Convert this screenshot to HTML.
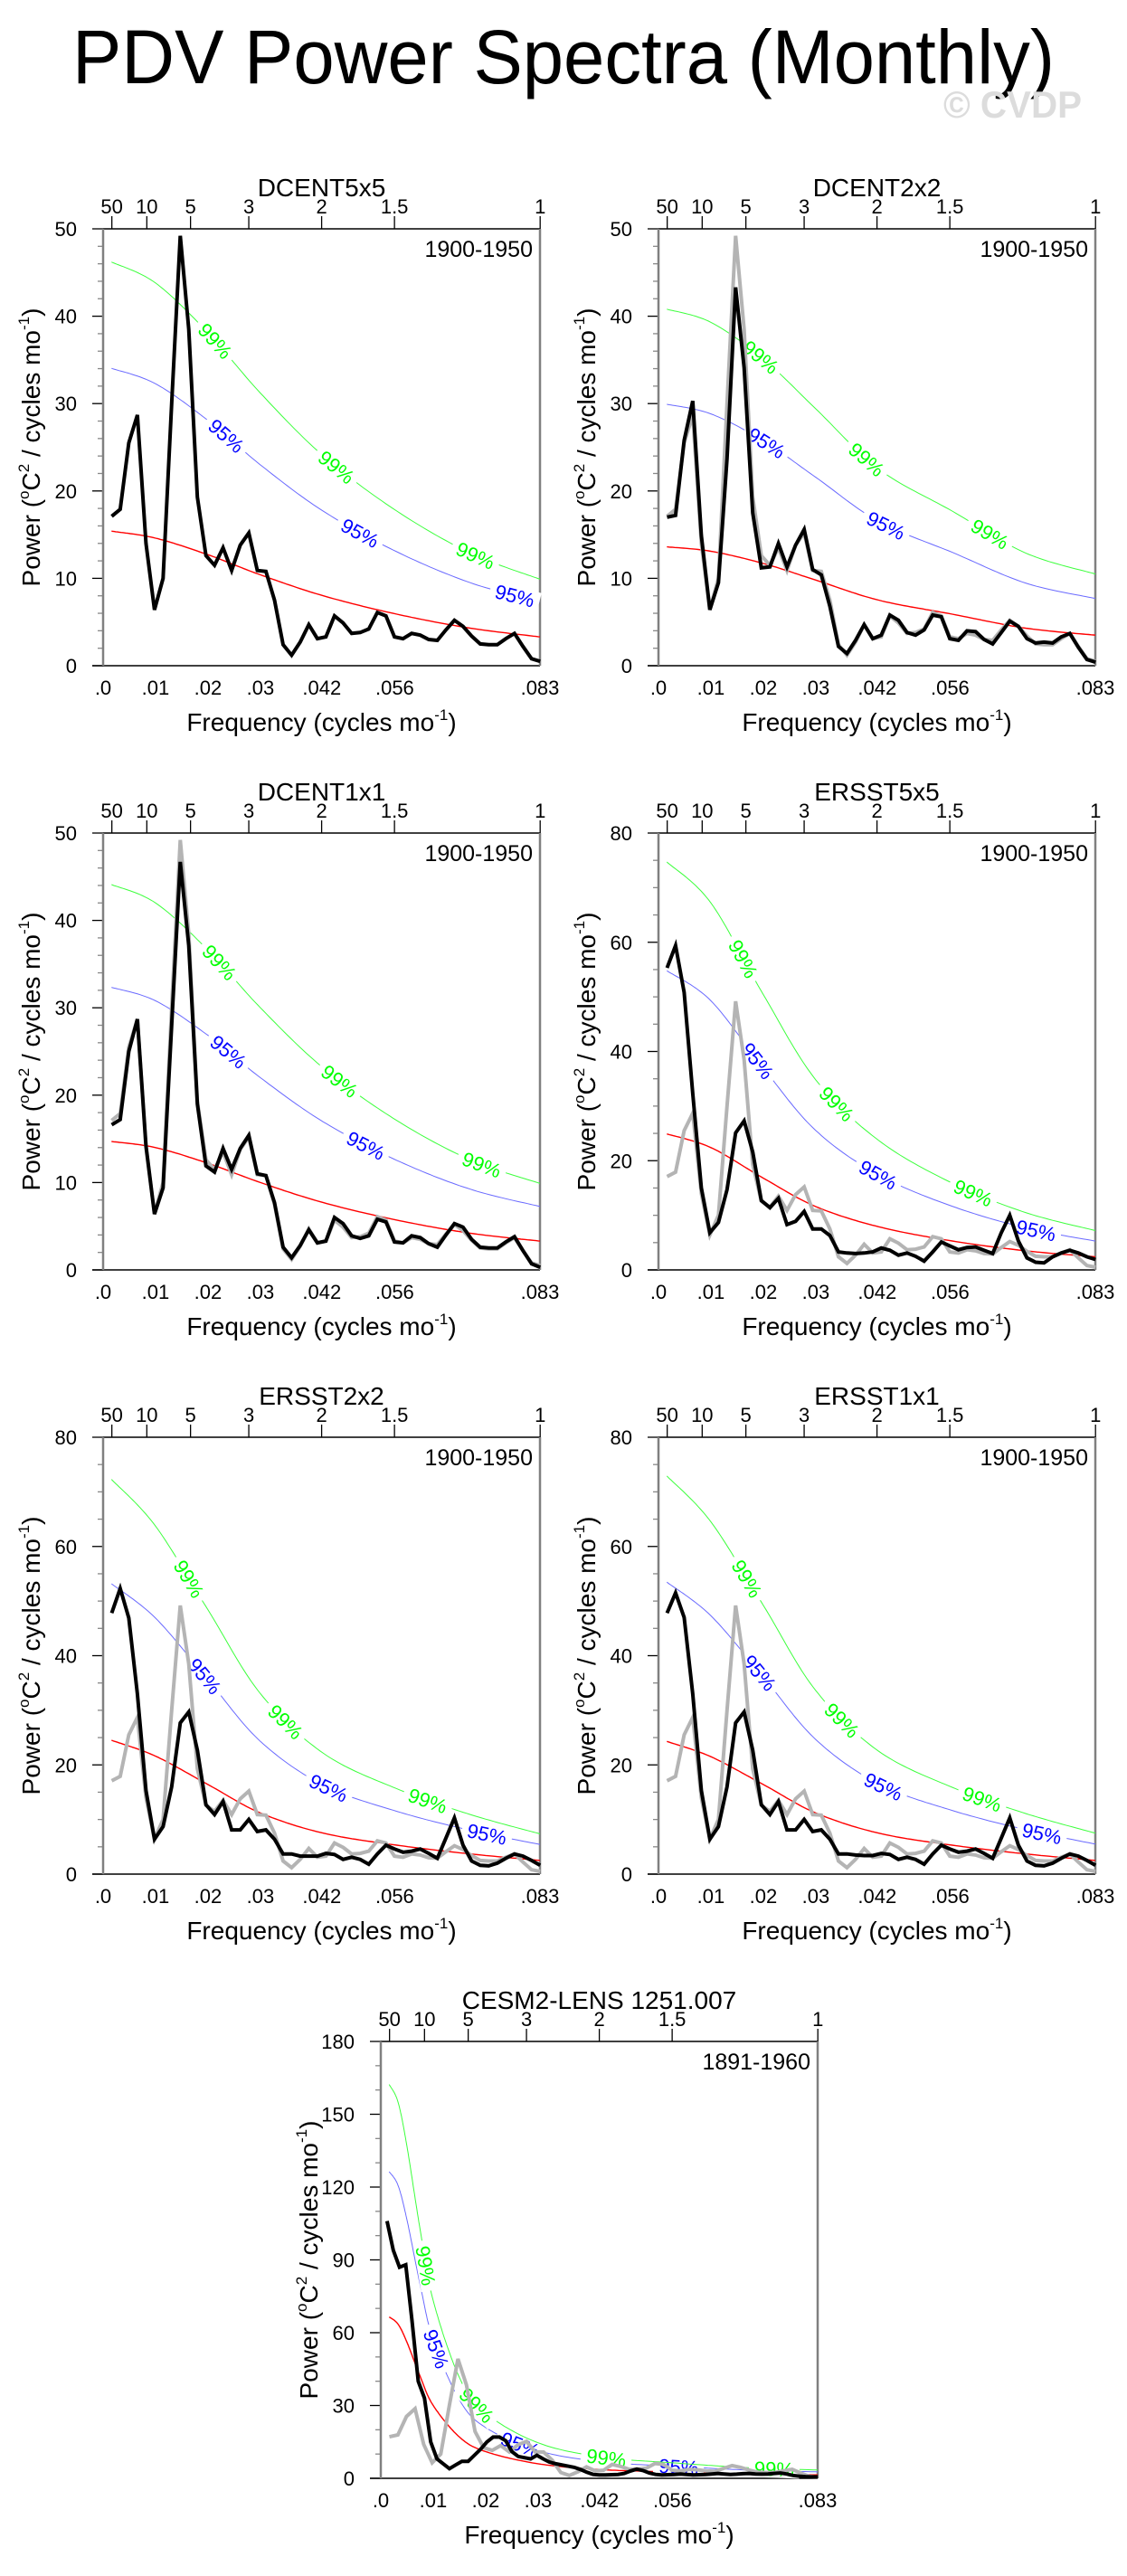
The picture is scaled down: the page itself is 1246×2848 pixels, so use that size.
<!DOCTYPE html>
<html><head><meta charset="utf-8"><title>PDV Power Spectra (Monthly)</title>
<style>
html,body{margin:0;padding:0;background:#fff;}
svg{display:block;font-family:"Liberation Sans",Arial,sans-serif;}
</style></head>
<body>
<svg id="fig" width="1246" height="2848" viewBox="0 0 1246 2848" xmlns="http://www.w3.org/2000/svg">
<rect x="0" y="0" width="1246" height="2848" fill="#fff"/>
<text x="80" y="92" font-size="84" textLength="1086" lengthAdjust="spacingAndGlyphs" fill="#000">PDV Power Spectra (Monthly)</text>
<text x="1043" y="130" font-size="42" font-weight="bold" fill="#dcdcdc" textLength="153" lengthAdjust="spacingAndGlyphs">© CVDP</text>
<g id="panels"></g>
</svg>
<script>
// ---- data ----
const periodTickLabels = ["50","10","5","3","2","1.5","1"];
const periodTickYears = [50,10,5,3,2,1.5,1];
const freqTickLabels = [".0",".01",".02",".03",".042",".056",".083"];
const freqTickValues = [0,0.01,0.02,0.03,0.0417,0.0556,0.0833];
const redNodeFreq = [0.0016,0.01,0.02,0.03,0.042,0.056,0.07,0.0833];
const cesmRedNodeFreq = [0.0016,0.0033,0.005,0.0075,0.01,0.015,0.02,0.03,0.042,0.056,0.07,0.0833];

const dcent5x5 = [17.1,17.9,25.5,28.7,14.0,6.4,10.0,30.0,49.2,38.5,19.3,12.6,11.5,13.5,10.9,13.8,15.2,10.9,10.8,7.5,2.4,1.2,2.7,4.7,3.1,3.3,5.7,4.9,3.7,3.8,4.2,6.1,5.7,3.3,3.1,3.7,3.5,3.0,2.9,4.1,5.2,4.5,3.4,2.5,2.4,2.4,3.1,3.7,2.2,0.8,0.5];
const dcent2x2 = [17.0,17.2,25.8,30.3,14.9,6.4,9.5,23.7,43.3,34.1,17.5,11.2,11.3,14.0,11.3,13.8,15.6,11.0,10.4,6.8,2.2,1.4,2.9,4.7,3.1,3.5,5.8,5.2,3.8,3.5,4.1,5.8,5.6,3.1,2.9,4.0,3.9,3.0,2.5,3.8,5.1,4.5,3.1,2.6,2.7,2.6,3.3,3.7,2.1,0.7,0.4];
const dcent1x1 = [16.6,17.2,25.0,28.7,14.2,6.4,9.4,28.0,46.7,37.1,19.0,11.9,11.2,13.9,11.5,13.9,15.4,11.0,10.8,7.7,2.6,1.4,2.8,4.6,3.1,3.3,6.0,5.3,3.9,3.6,3.9,5.8,5.5,3.2,3.1,3.9,3.7,3.0,2.6,4.0,5.3,4.9,3.5,2.6,2.5,2.5,3.2,3.8,2.2,0.7,0.3];
const ersst5x5 = [55.3,59.4,50.8,32.3,15.0,6.8,8.7,14.7,25.1,27.3,21.6,12.7,11.4,13.1,8.3,8.9,10.7,7.5,7.5,6.3,3.3,3.1,3.0,3.1,3.3,4.0,3.6,2.7,3.1,2.5,1.6,3.3,5.1,4.4,3.7,4.1,4.2,3.6,3.0,6.8,10.0,5.3,2.2,1.4,1.3,2.4,3.1,3.6,3.1,2.4,1.9];
const ersst2x2 = [47.8,52.3,46.9,33.0,15.3,6.4,8.7,16.0,27.7,29.7,22.7,12.7,10.9,13.3,8.1,8.1,10.0,7.8,8.1,6.4,3.7,3.7,3.3,3.3,3.3,3.8,3.6,2.7,3.1,2.7,1.8,3.7,5.3,4.6,4.0,4.2,4.6,3.8,2.9,6.6,10.3,5.3,2.4,1.6,1.5,2.0,2.9,3.7,3.3,2.5,1.6];
const ersst1x1 = [47.8,51.5,47.0,33.0,15.3,6.4,8.7,16.0,27.7,29.7,22.7,12.7,10.9,13.3,8.1,8.1,10.0,7.8,8.1,6.4,3.7,3.7,3.5,3.4,3.4,3.8,3.6,2.7,3.1,2.7,1.8,3.7,5.3,4.6,4.0,4.2,4.6,3.8,2.9,6.6,10.3,5.3,2.4,1.6,1.5,2.0,2.9,3.7,3.3,2.5,1.6];
const cesm2 = [106,94,87,88,65,40,33,15,8,6,4,5.5,7,7,9.5,12,15,17,17,15.5,11,9,8.5,8,9.5,8,6.7,6,5.5,5,4.5,3.6,2.5,1.6,1.4,1.4,1.5,1.6,2.0,3,3.8,3.2,2.2,1.6,1.4,1.5,1.6,1.8,1.6,1.4,1.5,1.6,1.8,2.0,1.8,1.6,1.7,1.9,2.0,1.8,1.7,1.8,2.0,2.2,1.8,1.2,0.9,0.7,0.6,0.6];

const red1 = [15.4,14.6,12.7,10.4,8.0,5.9,4.3,3.3];
const red2 = [13.6,13.1,11.7,9.8,7.5,5.9,4.3,3.5];
const red3 = [14.7,14.0,12.2,10.0,7.7,5.7,4.2,3.3];
const red4 = [24.9,22.4,16.8,11.6,7.9,5.3,3.5,2.4];
const red5 = [24.5,21.6,16.4,11.2,7.5,5.3,3.7,2.5];
const red6 = [24.3,21.5,16.4,11.2,7.5,5.3,3.7,2.5];
const red7 = [66.5,63.5,56,42,30,17,11,6,3.6,2.6,1.8,1.4];
const sig95 = [2.21,2.2,2.2,2.2,2.17,2.2,1.9];
const sig99 = [3.0,3.0,3.0,3.0,2.95,3.0,2.44];
const lab99 = [[0.0214,0.0445,0.0710],[0.0195,0.0397,0.0632],[0.0222,0.0451,0.0722],[0.0162,0.0340,0.0600],[0.0164,0.0348,0.0619],[0.0169,0.0350,0.0617],[0.0086,0.0183,0.0430,0.0750]];
const lab95 = [[0.0235,0.0490,0.0785],[0.0206,0.0434],[0.0239,0.0501],[0.0189,0.0419,0.0720],[0.0194,0.0430,0.0732],[0.0193,0.0429,0.0731],[0.0106,0.0266,0.0568]];
// record lengths in months (frequency spacing 1/N)
const obsMonths = 612;
const cesmMonths = 840;

const NS='http://www.w3.org/2000/svg';
const root=document.getElementById('panels');
function mk(tag,attrs,parent){const e=document.createElementNS(NS,tag);for(const k in attrs)e.setAttribute(k,attrs[k]);(parent||root).appendChild(e);return e;}

function spline(pts){
  const out=[];
  for(let i=0;i<pts.length-1;i++){
    const p0=pts[Math.max(i-1,0)],p1=pts[i],p2=pts[i+1],p3=pts[Math.min(i+2,pts.length-1)];
    for(let s=0;s<20;s++){const t=s/20,t2=t*t,t3=t2*t;
      out.push([0.5*((2*p1[0])+(-p0[0]+p2[0])*t+(2*p0[0]-5*p1[0]+4*p2[0]-p3[0])*t2+(-p0[0]+3*p1[0]-3*p2[0]+p3[0])*t3),
                0.5*((2*p1[1])+(-p0[1]+p2[1])*t+(2*p0[1]-5*p1[1]+4*p2[1]-p3[1])*t2+(-p0[1]+3*p1[1]-3*p2[1]+p3[1])*t3)]);}
  }
  out.push(pts[pts.length-1]);return out;
}

function panel(cfg){
  const g=mk('g',{});
  
  
  const L=cfg.x,T=cfg.y,W=483,H=483,R=L+W,B=T+H;
  const fmax=0.0833;
  const xs=f=>L+f/fmax*W;
  const ys=v=>B-v/cfg.ymax*H;
  for(let v=0;v<=cfg.ymax+1e-9;v+=cfg.yminor){
    const major=Math.abs(v/cfg.ystep-Math.round(v/cfg.ystep))<1e-6;
    const tk=mk('line',{x1:L-(major?12:6),x2:L,y1:ys(v),y2:ys(v),stroke:major?'#000':'#888','stroke-width':1.3},g);
    
    
    if(major){const t=mk('text',{x:L-29,y:ys(v)+8,'font-size':22,'text-anchor':'end'},g);t.textContent=String(Math.round(v));
      
      }
  }
  periodTickYears.forEach((p,i)=>{const x=xs(1/(12*p));
    const tk=mk('line',{x1:x,x2:x,y1:T,y2:T-14,stroke:'#000','stroke-width':1.3},g);
    
    
    const t=mk('text',{x:x,y:T-17,'font-size':22,'text-anchor':'middle'},g);t.textContent=periodTickLabels[i];
    
    });
  freqTickValues.forEach((f,i)=>{const t=mk('text',{x:xs(f),y:B+32,'font-size':22,'text-anchor':'middle'},g);t.textContent=freqTickLabels[i];
    
    });
  mk('line',{x1:L,x2:R,y1:T,y2:T,stroke:'#000','stroke-width':1.5},g);
  mk('line',{x1:L-12,x2:R,y1:B,y2:B,stroke:'#000','stroke-width':1.5},g);
  mk('line',{x1:L,x2:L,y1:T,y2:B,stroke:'#808080','stroke-width':2.5},g);
  mk('line',{x1:R,x2:R,y1:T,y2:B,stroke:'#808080','stroke-width':2.5},g);
  const ti=mk('text',{x:(L+R)/2,y:T-36,'font-size':28,'text-anchor':'middle'},g);ti.textContent=cfg.title;
  
  
  const pe=mk('text',{x:R-8,y:T+31,'font-size':25,'text-anchor':'end'},g);pe.textContent=cfg.period;
  
  
  const xl=mk('text',{x:(L+R)/2,y:B+72,'font-size':28,'text-anchor':'middle'},g);
  xl.innerHTML='Frequency (cycles mo<tspan font-size="17" dy="-12">-1</tspan><tspan dy="12">)</tspan>';
  
  
  const yl=mk('text',{x:0,y:0,'font-size':28,'text-anchor':'middle',transform:`translate(${L-70},${(T+B)/2}) rotate(-90)`},g);
  yl.innerHTML='Power (<tspan font-size="17" dy="-12">o</tspan><tspan dy="12">C</tspan><tspan font-size="17" dy="-12">2</tspan><tspan dy="12"> / cycles mo</tspan><tspan font-size="17" dy="-12">-1</tspan><tspan dy="12">)</tspan>';
  
  
  const nodes=cfg.nodeFreq;
  const curves=[{m:1,c:'#ff0000',w:1.4,n:'red-noise-curve',lab:null},{m:cfg.s95,c:'#6a6aff',w:1,n:'curve-95',lab:cfg.l95,lc:'#0000ff',lt:'95%'},{m:cfg.s99,c:'#3cff3c',w:1,n:'curve-99',lab:cfg.l99,lc:'#00ff00',lt:'99%'}];
  curves.forEach(cv=>{
    const pts=spline(nodes.map((f,i)=>[xs(f),ys(cfg.red[i]*cv.m)]));
    const p=mk('polyline',{points:pts.map(q=>q[0].toFixed(1)+','+q[1].toFixed(1)).join(' '),fill:'none',stroke:cv.c,'stroke-width':cv.w},g);
    
    
    if(cv.lab){cv.lab.forEach(f=>{
      const x=xs(f);let j=0;while(j<pts.length-2&&pts[j+1][0]<x)j++;
      const a=pts[Math.max(j-2,0)],b=pts[Math.min(j+3,pts.length-1)];
      const ang=Math.atan2(b[1]-a[1],b[0]-a[0])*180/Math.PI;
      const y=pts[j][1]+(pts[j+1][1]-pts[j][1])*((x-pts[j][0])/((pts[j+1][0]-pts[j][0])||1));
      const lg=mk('g',{transform:`translate(${x.toFixed(1)},${y.toFixed(1)}) rotate(${ang.toFixed(1)})`},g);
      mk('rect',{x:-28,y:-10,width:56,height:20,fill:'#fff'},lg);
      const t=mk('text',{x:0,y:8,'font-size':22,'text-anchor':'middle',fill:cv.lc},lg);t.textContent=cv.lt;
      
      
    });}
  });
  const line=(arr,months,col,nm)=>{const p=mk('polyline',{points:arr.map((v,k)=>xs((k+1)/months).toFixed(1)+','+ys(v).toFixed(1)).join(' '),fill:'none',stroke:col,'stroke-width':4,'stroke-linejoin':'miter'},g);
    
    };
  if(cfg.gray)line(dcent5x5,obsMonths,'#b4b4b4','reference-spectrum-line');
  line(cfg.data,cfg.months,'#000','spectrum-line');
}

panel({name:'panel-dcent5x5',x:114,y:253,ymax:50,ystep:10,yminor:2,title:'DCENT5x5',period:'1900-1950',data:dcent5x5,months:obsMonths,gray:false,nodeFreq:redNodeFreq,red:red1,s95:sig95[0],s99:sig99[0],l95:lab95[0],l99:lab99[0]});
panel({name:'panel-dcent2x2',x:728,y:253,ymax:50,ystep:10,yminor:2,title:'DCENT2x2',period:'1900-1950',data:dcent2x2,months:obsMonths,gray:true,nodeFreq:redNodeFreq,red:red2,s95:sig95[1],s99:sig99[1],l95:lab95[1],l99:lab99[1]});
panel({name:'panel-dcent1x1',x:114,y:921,ymax:50,ystep:10,yminor:2,title:'DCENT1x1',period:'1900-1950',data:dcent1x1,months:obsMonths,gray:true,nodeFreq:redNodeFreq,red:red3,s95:sig95[2],s99:sig99[2],l95:lab95[2],l99:lab99[2]});
panel({name:'panel-ersst5x5',x:728,y:921,ymax:80,ystep:20,yminor:5,title:'ERSST5x5',period:'1900-1950',data:ersst5x5,months:obsMonths,gray:true,nodeFreq:redNodeFreq,red:red4,s95:sig95[3],s99:sig99[3],l95:lab95[3],l99:lab99[3]});
panel({name:'panel-ersst2x2',x:114,y:1589,ymax:80,ystep:20,yminor:5,title:'ERSST2x2',period:'1900-1950',data:ersst2x2,months:obsMonths,gray:true,nodeFreq:redNodeFreq,red:red5,s95:sig95[4],s99:sig99[4],l95:lab95[4],l99:lab99[4]});
panel({name:'panel-ersst1x1',x:728,y:1589,ymax:80,ystep:20,yminor:5,title:'ERSST1x1',period:'1900-1950',data:ersst1x1,months:obsMonths,gray:true,nodeFreq:redNodeFreq,red:red6,s95:sig95[5],s99:sig99[5],l95:lab95[5],l99:lab99[5]});
panel({name:'panel-cesm2-lens',x:421,y:2257,ymax:180,ystep:30,yminor:10,title:'CESM2-LENS 1251.007',period:'1891-1960',data:cesm2,months:cesmMonths,gray:true,nodeFreq:cesmRedNodeFreq,red:red7,s95:sig95[6],s99:sig99[6],l95:lab95[6],l99:lab99[6]});
</script>
</body></html>
